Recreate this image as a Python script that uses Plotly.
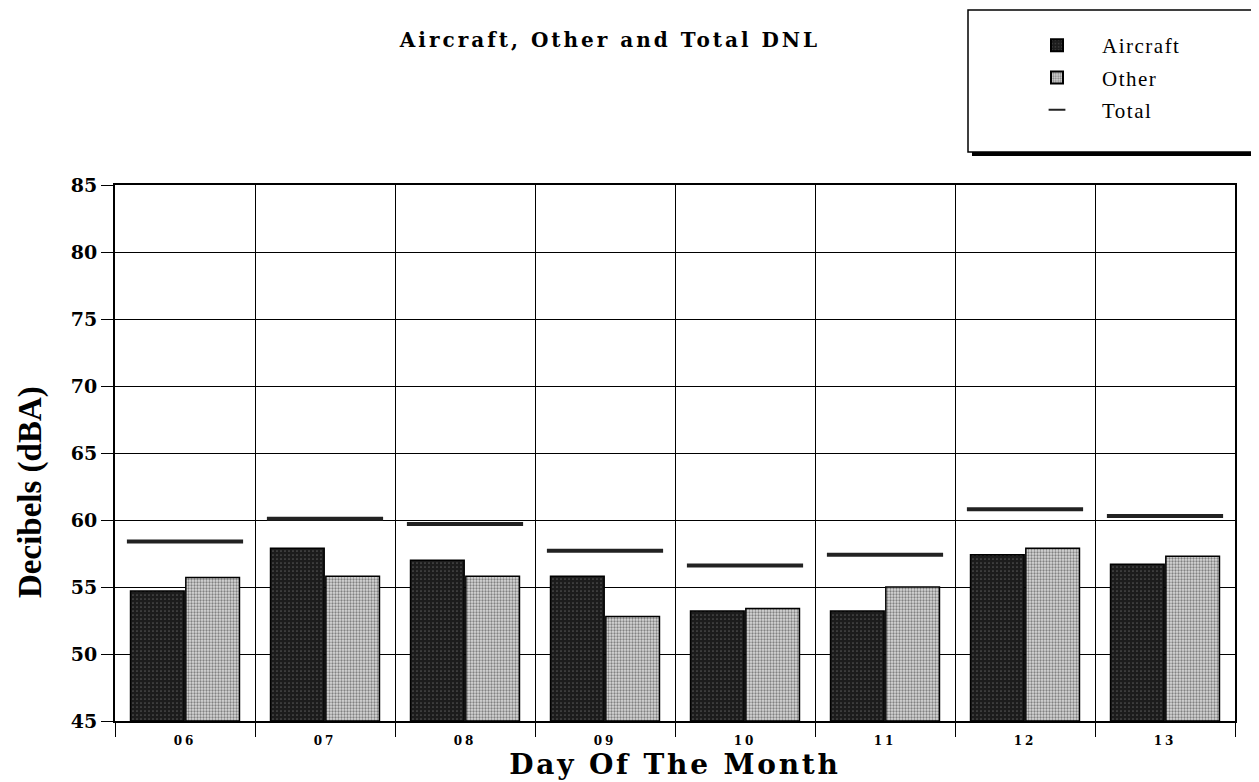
import plotly.graph_objects as go

days = ["06", "07", "08", "09", "10", "11", "12", "13"]
aircraft = [54.7, 57.9, 57.0, 55.8, 53.2, 53.2, 57.4, 56.7]
other = [55.7, 55.8, 55.8, 52.8, 53.4, 55.0, 57.9, 57.3]
total = [58.4, 60.1, 59.7, 57.7, 56.6, 57.4, 60.8, 60.3]

SERIF = "Liberation Serif"
WIDE = "DejaVu Serif"
# page body has an 8px margin, so the figure is laid out 8px smaller
W, H = 1251, 774
L, R, T, B = 107, 24, 177, 61
PW, PH = W - L - R, H - T - B


def spaced(text, px):
    return f'<span style="letter-spacing:{px}px">{text}</span>'


fig = go.Figure()
fig.add_trace(go.Bar(
    x=days, y=[a - 45 for a in aircraft], base=45, name=spaced("Aircraft", 1.5), legendgroup="a",
    marker=dict(color="#1c1c1c", line=dict(color="black", width=1.5),
                pattern=dict(shape=".", fgcolor="#8a8a8a", bgcolor="#1c1c1c",
                             size=4, solidity=0.15)),
))
fig.add_trace(go.Bar(
    x=days, y=[o - 45 for o in other], base=45, name=spaced("Other", 1.5), legendgroup="o",
    marker=dict(color="#9a9a9a", line=dict(color="black", width=1.5),
                pattern=dict(shape=".", fgcolor="#2a2a2a", bgcolor="#d8d8d8",
                             size=3, solidity=0.45)),
))
fig.add_trace(go.Scatter(
    x=days, y=total, name=spaced("Total", 1.5), mode="markers", legendgroup="t",
    marker=dict(symbol="line-ew", size=83, color="#222",
                line=dict(color="#222", width=4)),
))


# legend box with shadowed border (pixel positions relative to plot area)
def px_x(x):
    return (x - 8 - L) / PW


def px_y(y):
    return (H - B - (y - 8)) / PH


fig.add_shape(type="rect", xref="paper", yref="paper",
              x0=px_x(972), x1=px_x(1259), y0=px_y(156), y1=px_y(12),
              fillcolor="black", line=dict(width=0), layer="below")
fig.add_shape(type="rect", xref="paper", yref="paper",
              x0=px_x(968), x1=px_x(1255), y0=px_y(152), y1=px_y(10),
              fillcolor="white", line=dict(color="black", width=1.5), layer="below")

fig.add_annotation(
    text="<b>Decibels (dBA)</b>", textangle=-90, showarrow=False,
    xref="paper", yref="paper", x=px_x(30), y=px_y(492), xanchor="center", yanchor="middle",
    font=dict(family=SERIF, size=33, color="black"),
)

fig.update_layout(
    width=W, height=H,
    margin=dict(l=L, r=R, t=T, b=B, autoexpand=False),
    paper_bgcolor="white", plot_bgcolor="white",
    barmode="group", bargap=0.21, bargroupgap=0.03,
    title=dict(text="<b>" + spaced("Aircraft, Other and Total DNL", 3) + "</b>",
               x=(610 - 8) / W, xanchor="center", y=1 - (40 - 8) / H, yanchor="middle",
               font=dict(family=WIDE, size=20, color="black")),
    legend=dict(x=px_x(1012), xanchor="left", y=px_y(25), yanchor="top",
                bgcolor="rgba(0,0,0,0)", borderwidth=0, itemwidth=80, itemsizing="constant",
                traceorder="grouped", tracegroupgap=2,
                font=dict(family=SERIF, size=21, color="black")),
    showlegend=True,
)
fig.update_xaxes(
    type="category", range=[-0.5, 7.5], tickson="boundaries",
    tickvals=days, ticktext=[spaced(d, 3) for d in days],
    showgrid=True, gridcolor="black", gridwidth=1,
    showline=True, linecolor="black", linewidth=2, mirror=True,
    ticks="outside", ticklen=14, tickcolor="black", ticklabelstandoff=8,
    tickfont=dict(family=WIDE, size=12, color="black", weight="bold"),
    title=dict(text="<b>" + spaced("Day Of The Month", 2.8) + "</b>", standoff=6,
               font=dict(family=WIDE, size=28, color="black")),
)
fig.update_yaxes(
    range=[45, 85], dtick=5, showgrid=True, gridcolor="black", gridwidth=1,
    showline=True, linecolor="black", linewidth=2, mirror=True,
    ticks="outside", ticklen=12, tickcolor="black",
    tickfont=dict(family=WIDE, size=19, color="black", weight="bold"),
)

fig.write_html("out.html")
